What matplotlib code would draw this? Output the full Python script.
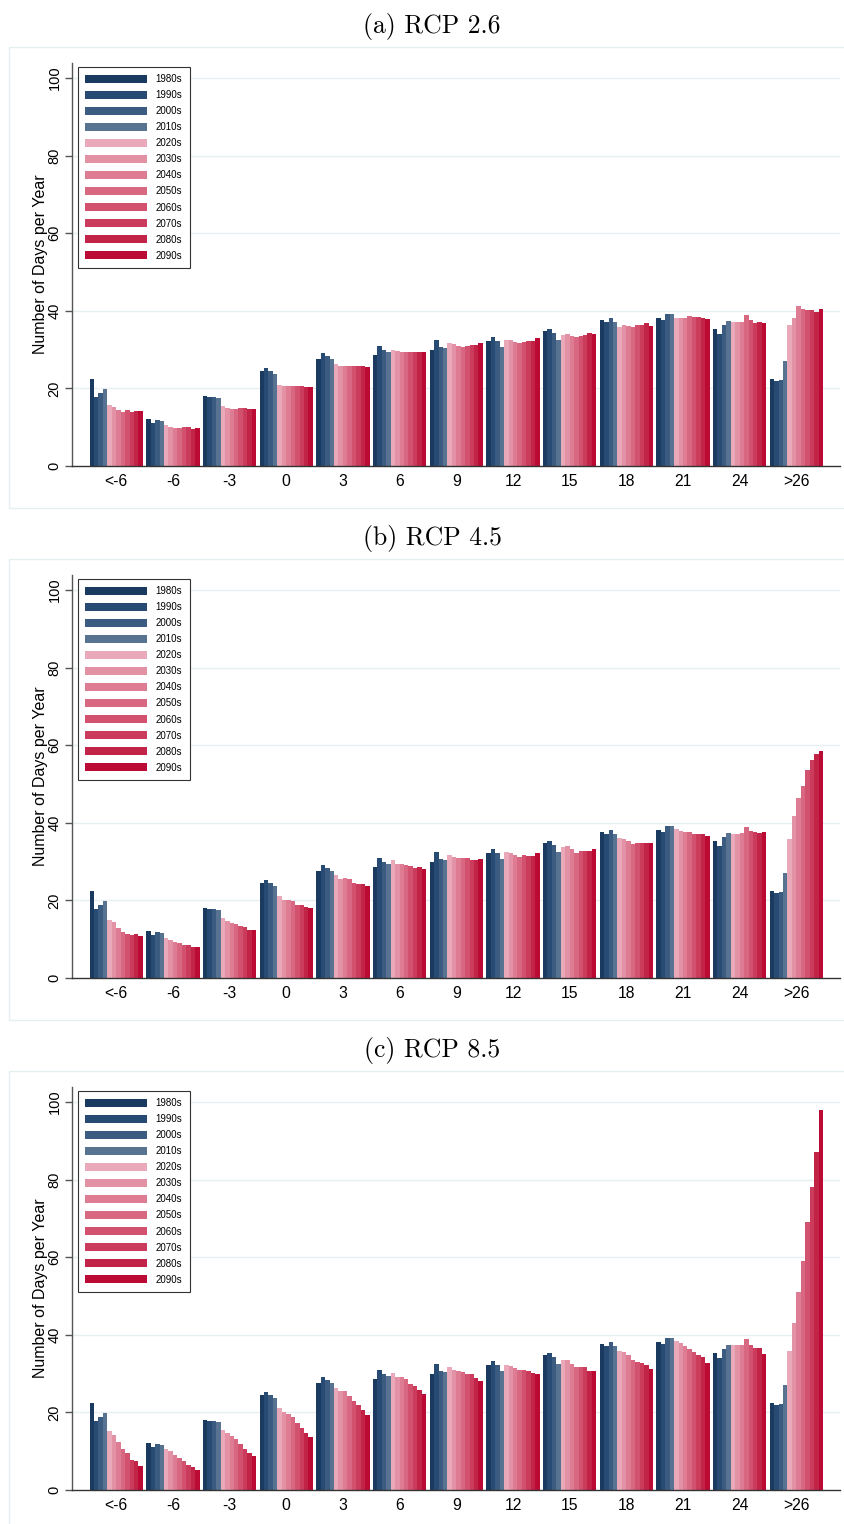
import numpy as np
import matplotlib
matplotlib.use("Agg")
import matplotlib.pyplot as plt
from matplotlib.patches import Rectangle

plt.rcParams['font.family'] = ['Liberation Sans', 'DejaVu Sans']

# temperature bins (deg C) and decades
bins = ["<-6", "-6", "-3", "0", "3", "6", "9", "12", "15", "18", "21", "24", ">26"]
decades = ["1980s", "1990s", "2000s", "2010s", "2020s", "2030s",
           "2040s", "2050s", "2060s", "2070s", "2080s", "2090s"]

# observed decades, one value per bin
hist_1980s = [22.4, 12.1, 18.0, 24.5, 27.5, 28.7, 29.9, 32.3, 34.9, 37.6, 38.1, 35.3, 22.4]
hist_1990s = [17.9, 11.2, 17.7, 25.2, 29.1, 30.9, 32.6, 33.3, 35.3, 37.2, 37.6, 34.1, 21.9]
hist_2000s = [18.9, 11.9, 17.7, 24.4, 28.3, 29.8, 30.7, 32.1, 34.3, 38.2, 39.2, 36.4, 22.1]
hist_2010s = [19.8, 11.5, 17.5, 23.7, 27.6, 29.3, 30.5, 30.7, 32.6, 37.0, 39.3, 37.4, 27.1]

# projections: one row per bin, columns 2020s ... 2090s
rcp26 = [
    [15.7, 15.3, 14.5, 13.9, 14.4, 14.0, 14.2, 14.3],
    [10.5, 10.1, 9.9, 9.9, 10.0, 10.0, 9.6, 9.7],
    [15.4, 14.9, 14.8, 14.8, 15.0, 15.0, 14.6, 14.6],
    [20.8, 20.5, 20.6, 20.6, 20.6, 20.5, 20.4, 20.3],
    [26.3, 25.8, 25.8, 25.8, 25.7, 25.8, 25.8, 25.5],
    [30.0, 29.6, 29.5, 29.5, 29.3, 29.5, 29.5, 29.4],
    [31.7, 31.4, 30.9, 30.8, 30.9, 31.2, 31.2, 31.6],
    [32.4, 32.5, 32.0, 31.7, 32.0, 32.3, 32.3, 32.9],
    [33.7, 33.9, 33.6, 33.2, 33.6, 33.8, 34.3, 34.0],
    [35.8, 36.3, 36.1, 35.7, 36.3, 36.4, 36.8, 36.2],
    [38.1, 38.1, 38.1, 38.7, 38.4, 38.3, 38.2, 37.8],
    [37.0, 37.0, 37.2, 39.0, 37.6, 36.9, 37.1, 36.9],
    [36.3, 38.2, 41.2, 40.4, 40.2, 40.2, 39.8, 40.5],
]
rcp45 = [
    [15.0, 14.5, 13.0, 11.8, 11.35, 11.2, 11.35, 10.7],
    [10.4, 9.9, 9.3, 9.1, 8.6, 8.5, 8.1, 7.9],
    [15.5, 14.6, 14.2, 14.0, 13.3, 13.2, 12.5, 12.3],
    [21.2, 20.2, 20.1, 19.9, 18.9, 18.7, 18.3, 18.1],
    [26.6, 25.6, 25.8, 25.4, 24.6, 24.3, 24.2, 23.6],
    [30.3, 29.3, 29.3, 29.2, 28.8, 28.4, 28.5, 28.1],
    [31.8, 31.3, 31.0, 30.9, 30.9, 30.4, 30.4, 30.7],
    [32.5, 32.3, 31.7, 31.1, 31.8, 31.4, 31.4, 32.3],
    [33.8, 33.9, 33.3, 32.3, 32.8, 32.8, 32.8, 33.2],
    [36.1, 35.9, 35.4, 34.6, 34.7, 34.7, 34.9, 34.7],
    [38.5, 38.0, 37.6, 37.6, 37.2, 37.2, 37.0, 36.7],
    [37.2, 37.0, 37.3, 39.0, 37.8, 37.7, 37.4, 37.6],
    [35.7, 41.7, 46.5, 49.6, 53.6, 56.1, 57.8, 58.5],
]
rcp85 = [
    [15.2, 14.3, 12.4, 10.5, 9.5, 7.7, 7.4, 6.2],
    [10.5, 10.0, 8.9, 8.2, 7.5, 6.4, 6.0, 5.2],
    [15.5, 14.8, 13.8, 13.2, 11.9, 10.5, 9.6, 8.8],
    [21.2, 20.2, 19.7, 18.7, 17.3, 16.0, 14.7, 13.7],
    [26.3, 25.4, 25.4, 24.3, 22.9, 21.8, 20.5, 19.4],
    [30.1, 29.2, 29.2, 28.6, 27.4, 26.7, 25.7, 24.7],
    [31.7, 30.9, 30.6, 30.4, 29.9, 29.8, 28.8, 28.2],
    [32.3, 32.0, 31.4, 30.9, 31.0, 30.8, 30.2, 30.0],
    [33.5, 33.5, 32.5, 31.7, 31.6, 31.6, 30.8, 30.8],
    [35.9, 35.6, 34.7, 33.4, 33.0, 32.7, 32.1, 31.3],
    [38.5, 37.8, 37.0, 36.4, 35.5, 34.8, 34.3, 32.8],
    [37.5, 37.4, 37.5, 38.8, 37.5, 36.7, 36.5, 35.0],
    [35.9, 43.1, 51.0, 59.0, 69.2, 78.2, 87.2, 98.0],
]

titles = ["(a) RCP 2.6", "(b) RCP 4.5", "(c) RCP 8.5"]

colors = ["#1b3a60", "#274b73", "#3b5c80", "#577391",
          "#e9a9b8", "#e392a6", "#de7c93", "#d86781",
          "#d2516f", "#ca3b5c", "#c22448", "#bb0a33"]

W, H = 845, 1524
fig = plt.figure(figsize=(W / 100, H / 100), dpi=100)

group_w = 0.94
bar_w = group_w / 12
x = np.arange(len(bins))


def draw_panel(k, future, title):
    dy = 512 * k
    # light frame round each panel
    fig.patches.append(Rectangle((9 / W, 1 - (508 + dy) / H), (W + 10) / W, 461 / H,
                                 transform=fig.transFigure, fill=False,
                                 edgecolor="#e6eff0", linewidth=1.0, zorder=0))
    fig.text(432 / W, 1 - (27 + dy) / H, title, ha="center", va="center",
             fontsize=18.5, family="cmr10")

    ax = fig.add_axes([72 / W, 1 - (466 + dy) / H, 768 / W, 403.5 / H])
    series = [hist_1980s, hist_1990s, hist_2000s, hist_2010s] + \
             [[row[j] for row in future] for j in range(8)]
    for j, vals in enumerate(series):
        ax.bar(x + (j - 5.5) * bar_w, vals, width=bar_w, color=colors[j],
               linewidth=0, label=decades[j], zorder=2)

    ax.set_xlim(-0.78, 12.77)
    ax.set_ylim(0, 104)
    ax.set_yticks([0, 20, 40, 60, 80, 100])
    ax.set_xticks(x)
    ax.set_xticklabels(bins)
    for g in [20, 40, 60, 80, 100]:
        ax.axhline(g, color="#e8eff0", linewidth=1.0, zorder=1)

    for s in ["top", "right"]:
        ax.spines[s].set_visible(False)
    ax.spines["left"].set_color("#555555")
    ax.spines["bottom"].set_color("#333333")
    ax.spines["left"].set_linewidth(1.0)
    ax.spines["bottom"].set_linewidth(1.0)

    ax.tick_params(axis="x", length=0, pad=6, labelsize=11.3)
    ax.tick_params(axis="y", length=5, width=1.0, color="#555555", pad=2.5,
                   labelsize=10.5, labelrotation=90)
    for lab in ax.get_yticklabels():
        lab.set_va("center")

    ax.set_ylabel("Number of Days per Year", fontsize=11.5, va="center")
    ax.yaxis.set_label_coords(-0.041, 0.5)

    leg = ax.legend(loc="upper left", bbox_to_anchor=(6 / 768, 1 - 4.5 / 403.5),
                    borderaxespad=0, fontsize=7, handlelength=6.3,
                    handleheight=0.82, labelspacing=0.62, handletextpad=0.93,
                    borderpad=0.75, fancybox=False, framealpha=1)
    leg.get_frame().set_edgecolor("#333333")
    leg.get_frame().set_linewidth(0.8)


for k, (future, title) in enumerate(zip([rcp26, rcp45, rcp85], titles)):
    draw_panel(k, future, title)

fig.savefig("out.png", dpi=100)
